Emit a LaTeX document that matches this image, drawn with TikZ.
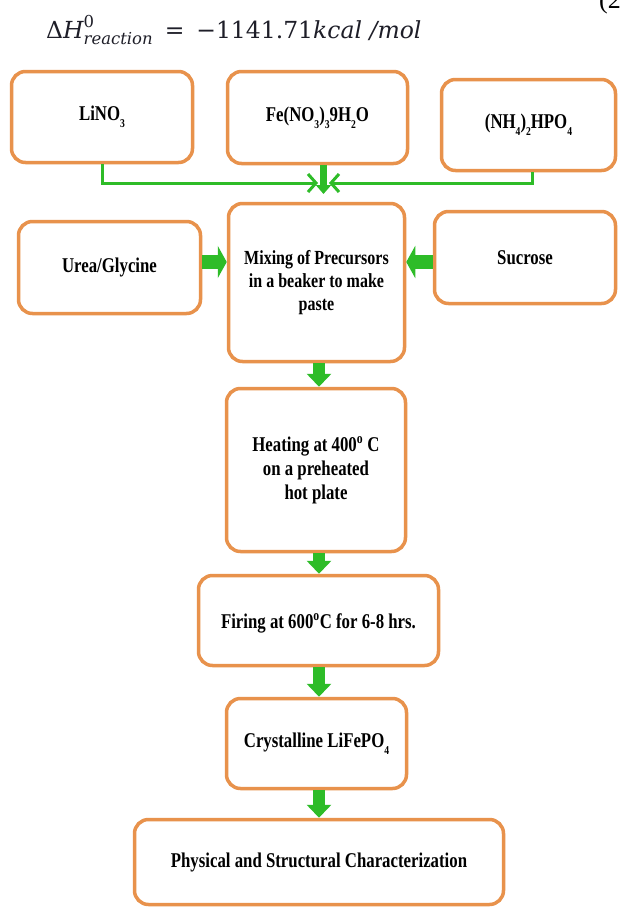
\documentclass[tikz,border=0pt]{standalone}
\usepackage{graphicx}
\usepackage{amsmath}
\usepackage[no-math]{fontspec}
\setmainfont{Liberation Serif}[FakeStretch=0.8]
\newfontfamily\eqnofont{Liberation Serif}
\newfontfamily\eqfont{DejaVu Serif}
\usetikzlibrary{arrows.meta}
\definecolor{boxorange}{RGB}{232,146,76}
\definecolor{arrgreen}{RGB}{46,188,40}
\definecolor{eqcol}{RGB}{30,30,40}
\newcommand{\lsub}[1]{\raisebox{-0.35em}{\fontsize{12}{12}\selectfont #1}}
\newcommand{\degs}{\textsuperscript{o}}
\begin{document}
\begin{tikzpicture}[x=1pt,y=-1pt,
  box/.style={draw=boxorange, line width=3.5pt, rounded corners=14pt, fill=white,
    align=center, inner sep=2pt, font=\fontsize{21}{24}\selectfont\bfseries},
  thinarr/.style={draw=arrgreen, line width=3pt,
    -{Straight Barb[length=8pt,width=18pt,line width=3pt]}},
  blk/.style={draw=arrgreen, line width=12pt, -{Triangle[length=13pt,width=24pt]}},
  blkh/.style={draw=arrgreen, line width=14pt, -{Triangle[length=9pt,width=32pt]}},
  blks/.style={draw=arrgreen, line width=7pt, -{Triangle[length=9pt,width=15pt]}}
]
\clip (0,0) rectangle (622,908);
\fill[white] (0,0) rectangle (622,908);

% equation
\node[anchor=base west, inner sep=0pt, text=eqcol, font=\fontsize{23.5}{27}\selectfont\eqfont] (eq) at (46,38)
  {$\text{Δ}\text{\itshape H}^{\text{0}}_{\text{\itshape reaction}}$\enspace=\enspace−1141.71\textit{kcal /mol}};
\node[anchor=base west, inner sep=0pt, font=\fontsize{26}{30}\selectfont\eqnofont] (eqno) at (599,8) {(2};

% boxes
\node[box, minimum width=181pt, minimum height=91pt] (A) at (102,117) {LiNO\lsub{3}};
\node[box, minimum width=180pt, minimum height=92pt] (B) at (317.5,117.5) {Fe(NO\lsub{3})\lsub{3}9H\lsub{2}O};
\node[box, minimum width=174pt, minimum height=91pt] (C) at (528.5,125) {(NH\lsub{4})\lsub{2}HPO\lsub{4}};
\node[box, minimum width=182pt, minimum height=92pt] (D) at (109.5,267.5) {Urea/Glycine};
\node[box, minimum width=176pt, minimum height=158pt, font=\fontsize{20}{23}\selectfont\bfseries] (E) at (316.5,282.5)
  {Mixing of Precursors\\in a beaker to make\\paste};
\node[box, minimum width=181pt, minimum height=92pt] (F) at (525,257.5) {Sucrose};
\node[box, minimum width=179pt, minimum height=163pt] (G) at (316,470)
  {Heating at 400\degs{} C\\on a preheated\\hot plate};
\node[box, minimum width=240pt, minimum height=90pt, text height=20pt] (H) at (318.5,620.5) {Firing at 600\degs C for 6-8 hrs.};
\node[box, minimum width=180pt, minimum height=90pt] (I) at (316.5,743.5) {Crystalline LiFePO\lsub{4}};
\node[box, minimum width=369pt, minimum height=85pt] (J) at (319,862) {Physical and Structural Characterization};

% helper coordinates
\coordinate (mL) at (318,183);
\coordinate (mR) at (329,183);
\coordinate (xc) at (319,0);
\coordinate (yh) at (0,262);
\coordinate (fe) at (323.5,194);

% top connectors
\draw[thinarr] (A.south) |- (mL);
\draw[thinarr] ([xshift=3.5pt]C.south) |- (mR);
\draw[blks] ([xshift=6pt]B.south) -- (fe);

% side arrows
\draw[blkh] (D.east |- yh) -- (E.west |- yh);
\draw[blkh] (F.west |- yh) -- (E.east |- yh);

% vertical flow
\draw[blk] (E.south -| xc) -- (G.north -| xc);
\draw[blk] (G.south -| xc) -- (H.north -| xc);
\draw[blk] (H.south -| xc) -- (I.north -| xc);
\draw[blk] (I.south -| xc) -- (J.north -| xc);
\end{tikzpicture}
\end{document}
